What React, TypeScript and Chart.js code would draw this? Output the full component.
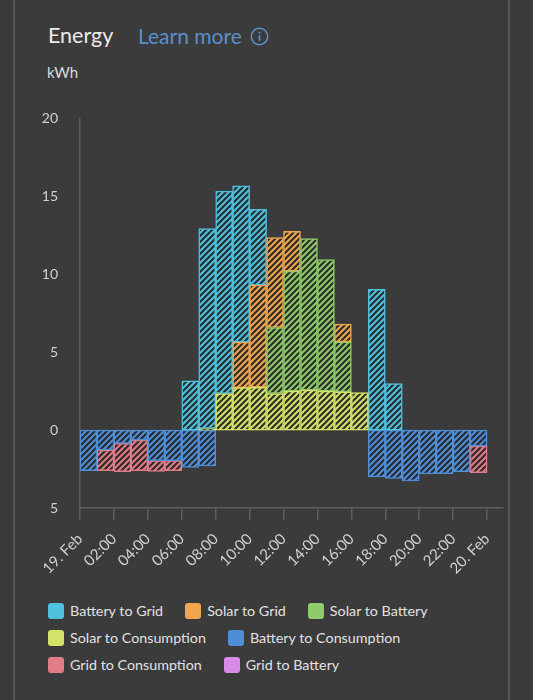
import React, { useEffect, useRef } from 'react';
import { Chart, registerables } from 'chart.js';

Chart.register(...registerables);

// ---- data (hourly, 19. Feb 00:00 .. 23:00) ----
const hours = [0, 1, 2, 3, 4, 5, 6, 7, 8, 9, 10, 11, 12, 13, 14, 15, 16, 17, 18, 19, 20, 21, 22, 23];
const xTickValues = [0, 2, 4, 6, 8, 10, 12, 14, 16, 18, 20, 22, 24];
const xTickLabels = ['19. Feb', '02:00', '04:00', '06:00', '08:00', '10:00', '12:00', '14:00', '16:00', '18:00', '20:00', '22:00', '20. Feb'];
const yTickValues = [-5, 0, 5, 10, 15, 20];

const batteryToGrid = [null, null, null, null, null, null, 3.16, 12.83, 12.99, 10.04, 4.87, null, null, null, null, null, null, 9.03, 2.99, null, null, null, null, null];
const solarToGrid = [null, null, null, null, null, null, null, null, null, 2.92, 6.55, 5.77, 2.56, null, null, 1.14, null, null, null, null, null, null, null, null];
const solarToBattery = [null, null, null, null, null, null, null, null, null, null, null, 4.23, 7.7, 9.73, 8.44, 3.21, null, null, null, null, null, null, null, null];
const solarToConsumption = [null, null, null, null, null, null, null, 0.1, 2.35, 2.72, 2.75, 2.35, 2.5, 2.56, 2.5, 2.45, 2.4, null, null, null, null, null, null, null];
const batteryToConsumption = [-2.6, -1.28, -0.85, -0.64, -1.96, -1.96, -2.4, -2.3, null, null, null, null, null, null, null, null, null, -3.0, -3.1, -3.26, -2.82, -2.8, -2.67, -1.03];
const gridToConsumption = [null, -1.33, -1.82, -1.96, -0.7, -0.64, null, null, null, null, null, null, null, null, null, null, null, null, null, null, null, null, null, -1.71];
const gridToBattery = [null, null, null, null, null, null, null, null, null, null, null, null, null, null, null, null, null, null, null, null, null, null, null, null];

const legendItems = [
  ['Battery to Grid', '#4fc1df'],
  ['Solar to Grid', '#efa64f'],
  ['Solar to Battery', '#8fcb6a'],
  ['Solar to Consumption', '#d5e26a'],
  ['Battery to Consumption', '#4f8ed6'],
  ['Grid to Consumption', '#e07c86'],
  ['Grid to Battery', '#d88ae6'],
];
const legendRows = [[0, 1, 2], [3, 4], [5, 6]];

function makePattern(color: string): CanvasPattern | string {
  const s = 6;
  const c = document.createElement('canvas');
  c.width = s;
  c.height = s;
  const ctx = c.getContext('2d');
  if (!ctx) return color;
  ctx.fillStyle = color;
  ctx.fillRect(0, 0, s, s);
  ctx.strokeStyle = 'rgba(38,38,38,0.95)';
  ctx.lineWidth = 2.2;
  ctx.beginPath();
  ctx.moveTo(0, s);
  ctx.lineTo(s, 0);
  ctx.moveTo(-s / 2, s / 2);
  ctx.lineTo(s / 2, -s / 2);
  ctx.moveTo(s / 2, s * 1.5);
  ctx.lineTo(s * 1.5, s / 2);
  ctx.stroke();
  return ctx.createPattern(c, 'repeat') || color;
}

const AXIS = '#5e5e5e';
const TICK_TEXT = '#d2d2d2';

export default function App() {
  const ref = useRef<HTMLCanvasElement | null>(null);

  useEffect(() => {
    if (!ref.current) return;
    Chart.defaults.font.family = 'Lato';
    const series: [string, (number | null)[], string][] = [
      ['Solar to Consumption', solarToConsumption, '#d5e26a'],
      ['Solar to Battery', solarToBattery, '#8fcb6a'],
      ['Solar to Grid', solarToGrid, '#efa64f'],
      ['Battery to Grid', batteryToGrid, '#4fc1df'],
      ['Battery to Consumption', batteryToConsumption, '#4f8ed6'],
      ['Grid to Consumption', gridToConsumption, '#e07c86'],
      ['Grid to Battery', gridToBattery, '#d88ae6'],
    ];
    const chart = new Chart(ref.current, {
      type: 'bar',
      data: {
        datasets: series.map(([label, vals, color]) => ({
          label,
          data: hours.map((h, i) => ({ x: h + 0.5, y: vals[i] })),
          backgroundColor: makePattern(color),
          borderColor: color,
          borderWidth: 1.5,
          borderSkipped: false,
          barPercentage: 1,
          categoryPercentage: 1,
        })) as any,
      },
      options: {
        animation: false,
        responsive: true,
        maintainAspectRatio: false,
        layout: { padding: { top: 6, right: 30, bottom: 0, left: 0 } },
        plugins: { legend: { display: false }, tooltip: { enabled: false } },
        scales: {
          x: {
            type: 'linear',
            min: 0,
            max: 24.94,
            offset: false,
            stacked: true,
            grid: { display: true, drawOnChartArea: false, drawTicks: true, tickLength: 12, color: AXIS, lineWidth: 1.5, offset: false },
            border: { display: true, color: AXIS, width: 1.5 },
            afterBuildTicks: (s: any) => {
              s.ticks = xTickValues.map((v) => ({ value: v }));
            },
            afterFit: (s: any) => {
              s.height = 82;
            },
            ticks: {
              autoSkip: false,
              minRotation: 45,
              maxRotation: 45,
              padding: 10,
              color: TICK_TEXT,
              font: { size: 15 },
              callback: (v: any) => xTickLabels[xTickValues.indexOf(Number(v))] ?? '',
            },
          },
          y: {
            type: 'linear',
            min: -5,
            max: 20,
            stacked: true,
            grid: { display: false, drawTicks: false },
            border: { display: true, color: AXIS, width: 1.5 },
            afterBuildTicks: (s: any) => {
              s.ticks = yTickValues.map((v) => ({ value: v }));
            },
            afterFit: (s: any) => {
              s.width = 80;
            },
            ticks: {
              padding: 22,
              color: TICK_TEXT,
              font: { size: 14 },
              callback: (v: any) => String(Math.abs(Number(v))),
            },
          },
        },
      } as any,
    });
    return () => chart.destroy();
  }, []);

  return (
    <div
      style={{
        position: 'absolute',
        left: 0,
        top: 0,
        width: 533,
        height: 700,
        background: '#3b3b3b',
        fontFamily: 'Lato, sans-serif',
        overflow: 'hidden',
      }}
    >
      <div style={{ position: 'absolute', left: 13, top: 0, width: 1.5, height: 700, background: '#575757' }} />
      <div style={{ position: 'absolute', left: 508, top: 0, width: 1.5, height: 700, background: '#575757' }} />
      <div style={{ position: 'absolute', left: 48, top: 24.5, fontSize: 21.5, lineHeight: 1, color: '#ececec', whiteSpace: 'nowrap' }}>Energy</div>
      <div style={{ position: 'absolute', left: 138, top: 24.5, fontSize: 21, lineHeight: 1, color: '#5a90cc', whiteSpace: 'nowrap' }}>Learn more</div>
      <svg style={{ position: 'absolute', left: 250, top: 27 }} width="19" height="19" viewBox="0 0 19 19">
        <circle cx="9.5" cy="9.5" r="8.2" fill="none" stroke="#5a90cc" strokeWidth="1.5" />
        <circle cx="9.5" cy="5.6" r="1.1" fill="#5a90cc" />
        <line x1="9.5" y1="8.2" x2="9.5" y2="13.8" stroke="#5a90cc" strokeWidth="1.7" />
      </svg>
      <div style={{ position: 'absolute', left: 47, top: 64.5, fontSize: 15, lineHeight: 1, color: '#dcdcdc' }}>kWh</div>
      <div style={{ position: 'absolute', left: 0, top: 88, width: 533, height: 502 }}>
        <canvas ref={ref} />
      </div>
      <div style={{ position: 'absolute', left: 48, top: 603 }}>
        {legendRows.map((row, ri) => (
          <div key={ri} style={{ display: 'flex', height: 16, marginBottom: 11, alignItems: 'center' }}>
            {row.map((idx) => (
              <div key={idx} style={{ display: 'flex', alignItems: 'center', marginRight: 22 }}>
                <div style={{ width: 16, height: 16, borderRadius: 3, background: legendItems[idx][1] }} />
                <span style={{ marginLeft: 6, fontSize: 14.3, lineHeight: '16px', color: '#e2e2e2', whiteSpace: 'nowrap' }}>
                  {legendItems[idx][0]}
                </span>
              </div>
            ))}
          </div>
        ))}
      </div>
    </div>
  );
}
